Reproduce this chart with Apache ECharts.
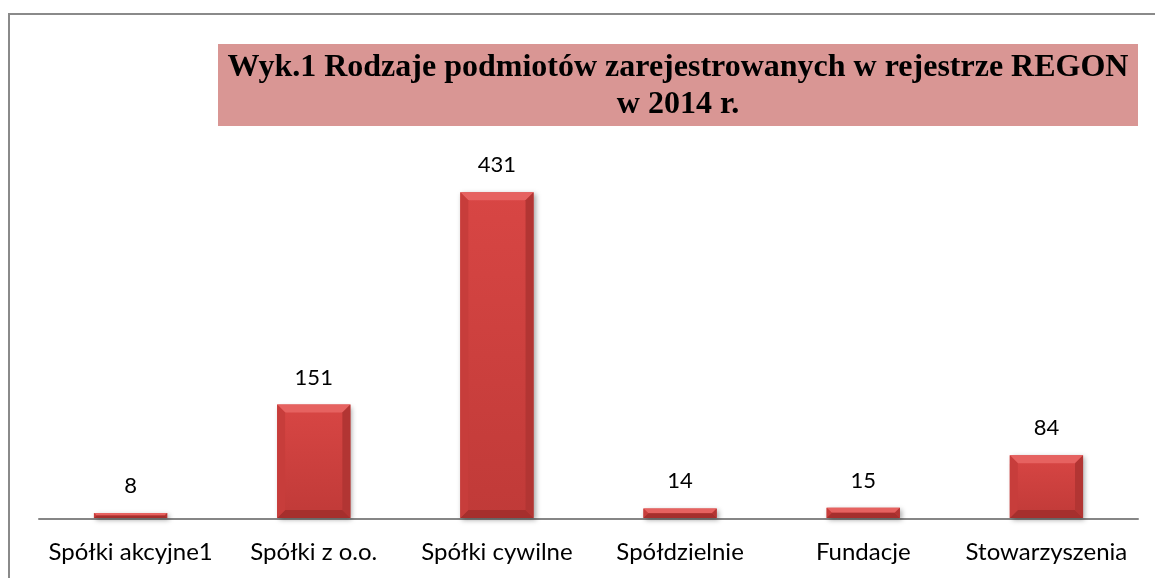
<!DOCTYPE html>
<html>
<head>
<meta charset="utf-8">
<script src="https://cdn.jsdelivr.net/npm/echarts@6/dist/echarts.min.js"></script>
<style>
  html, body { margin: 0; padding: 0; background: #fff; }
  #chart { width: 1155px; height: 578px; }
</style>
</head>
<body>
<div id="chart"></div>
<script>
let categories = ['Spółki akcyjne1', 'Spółki z o.o.', 'Spółki cywilne', 'Spółdzielnie', 'Fundacje', 'Stowarzyszenia']
let values = [8, 151, 431, 14, 15, 84]
let titleText = 'Wyk.1 Rodzaje podmiotów zarejestrowanych w rejestrze REGON\nw 2014 r.'

function renderBar(params, api) {
  let v = api.value(1)
  let top = api.coord([api.value(0), v])
  let base = api.coord([api.value(0), 0])
  let bw = api.size([1, 0])[0] * 0.4
  let x0 = top[0] - bw / 2
  let x1 = x0 + bw
  let y0 = top[1]
  let y1 = base[1] - 1
  let h = y1 - y0
  let b = Math.min(8, h / 2, bw / 2)
  return {
    type: 'group',
    children: [
      {
        type: 'rect',
        shape: { x: x0, y: y0, width: bw, height: h },
        style: {
          fill: new echarts.graphic.LinearGradient(0, 0, 0, 1, [
            { offset: 0, color: '#d84644' },
            { offset: 1, color: '#c03a38' }
          ]),
          shadowBlur: 5, shadowOffsetX: 2, shadowOffsetY: 2, shadowColor: 'rgba(0,0,0,0.35)'
        }
      },
      { type: 'polygon', shape: { points: [[x0, y0], [x1, y0], [x1 - b, y0 + b], [x0 + b, y0 + b]] }, style: { fill: '#e66260' } },
      { type: 'polygon', shape: { points: [[x0, y1], [x1, y1], [x1 - b, y1 - b], [x0 + b, y1 - b]] }, style: { fill: '#a52f2d' } },
      { type: 'polygon', shape: { points: [[x0, y0], [x0 + b, y0 + b], [x0 + b, y1 - b], [x0, y1]] }, style: { fill: '#c73d3b' } },
      { type: 'polygon', shape: { points: [[x1, y0], [x1 - b, y0 + b], [x1 - b, y1 - b], [x1, y1]] }, style: { fill: '#b23533' } },
      {
        type: 'text',
        style: {
          text: String(v), x: top[0], y: y0 - 16,
          textAlign: 'center', textVerticalAlign: 'bottom',
          font: '22px Lato', fill: '#000'
        }
      }
    ]
  }
}

let chart = echarts.init(document.getElementById('chart'))
let option = {
  animation: false,
  title: {
    text: titleText,
    left: 673,
    top: 44,
    textAlign: 'center',
    textStyle: {
      fontFamily: 'Liberation Serif',
      fontWeight: 'bold',
      fontSize: 32,
      lineHeight: 37,
      color: '#000'
    }
  },
  graphic: [
    {
      type: 'rect', z: -1,
      shape: { x: 9, y: 14, width: 1200, height: 600 },
      style: { fill: '#fff', stroke: '#8a8a8a', lineWidth: 2 }
    },
    {
      type: 'rect', z: 0,
      shape: { x: 218, y: 44, width: 920, height: 82 },
      style: { fill: '#d99694' }
    }
  ],
  grid: { left: 39, right: 17, top: 140, bottom: 59 },
  xAxis: {
    type: 'category',
    data: categories,
    axisLine: { lineStyle: { color: '#868686', width: 2 } },
    axisTick: { show: false },
    axisLabel: { color: '#000', fontFamily: 'Lato', fontSize: 24, margin: 21, interval: 0 }
  },
  yAxis: {
    type: 'value',
    min: 0,
    max: 500,
    show: false,
    splitLine: { show: false }
  },
  series: [{
    type: 'custom',
    renderItem: renderBar,
    data: values.map((v, i) => [i, v]),
    z: 3
  }]
}
chart.setOption(option)
</script>
</body>
</html>
